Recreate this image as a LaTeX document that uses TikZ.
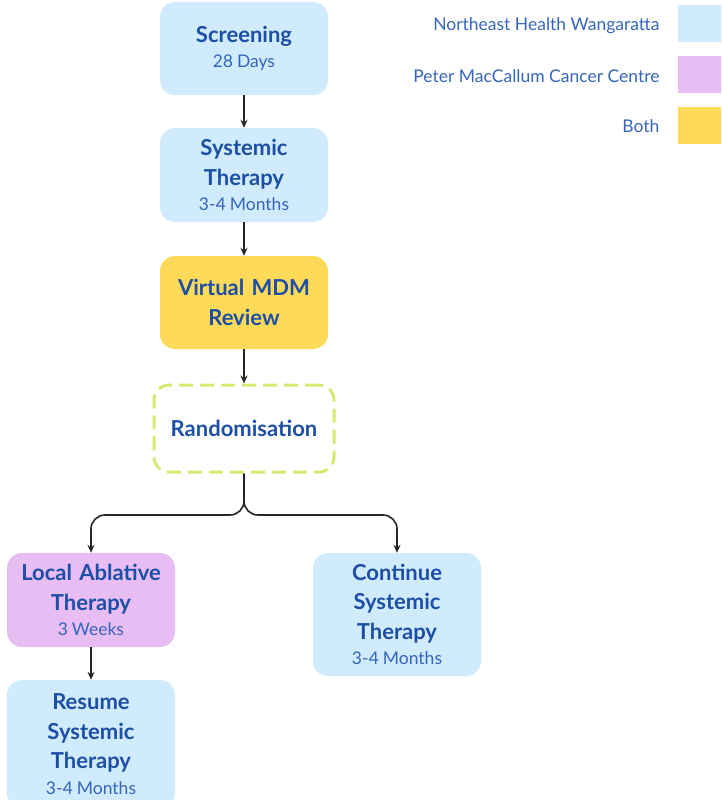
\documentclass[tikz,border=0pt]{standalone}
\usepackage{fontspec}
\setmainfont[Numbers=Proportional]{Lato}
\usetikzlibrary{arrows.meta}
\definecolor{nhw}{HTML}{CFEBFD}
\definecolor{pmc}{HTML}{E8BDF4}
\definecolor{both}{HTML}{FFD958}
\definecolor{rnd}{HTML}{D6EA72}
\definecolor{titc}{HTML}{1D4FA6}
\definecolor{subc}{HTML}{3565BC}
\tikzset{
  box/.style={rectangle, rounded corners=15pt, minimum width=168pt, text width=160pt, align=center, inner sep=0pt, text=titc, font=\fontsize{22}{29.5}\selectfont\bfseries},
  leg/.style={rectangle, minimum width=50pt, minimum height=37pt, inner sep=0pt},
  legtxt/.style={anchor=east, text=subc, font=\fontsize{17.5}{18}\selectfont},
  arr/.style={-{Stealth[length=8pt,width=7pt]}, line width=1.6pt, black!85},
}
\newcommand{\sbt}[1]{{\fontsize{17.5}{29.5}\selectfont\mdseries\spaceskip=0.22em\relax\color{subc}#1}}
\begin{document}
\begin{tikzpicture}[x=1pt,y=-1pt]
\useasboundingbox (0,0) rectangle (721,800);
\clip (0,0) rectangle (721,800);
\node[box, fill=nhw, minimum height=93pt] (scr) at (244,48.5) {Screening\\[-4pt]\sbt{28 Days}};
\node[box, fill=nhw, minimum height=94pt] (sys) at (244,175) {Systemic\\Therapy\\[-4pt]\sbt{3-4 Months}};
\node[box, fill=both, minimum height=93pt] (mdm) at (244,302.5) {Virtual MDM\\Review};
\node[box, draw=rnd, line width=3pt, dash pattern=on 14pt off 7pt, fill=white, minimum width=180pt, minimum height=87pt] (rnd) at (244,428.5) {Randomisation};
\node[box, fill=pmc, minimum height=94pt] (lat) at (91,600) {Local Ablative\\Therapy\\[-4pt]\sbt{3 Weeks}};
\node[box, fill=nhw, minimum height=128pt] (res) at (91,744) {Resume\\Systemic\\Therapy\\[-4pt]\sbt{3-4 Months}};
\node[box, fill=nhw, minimum height=123pt] (con) at (397,614.5) {Continue\\Systemic\\Therapy\\[-4pt]\sbt{3-4 Months}};
% legend
\node[leg, fill=nhw, anchor=west] (l1) at (678,24) {};
\node[leg, fill=pmc, anchor=west] (l2) at (678,74.5) {};
\node[leg, fill=both, anchor=west] (l3) at (678,125) {};
\node[legtxt] (t1) at (663,26) {Northeast Health Wangaratta};
\node[legtxt] (t2) at (663,76) {Peter MacCallum Cancer Centre};
\node[legtxt] (t3) at (663,126.5) {Both};
% arrows
\draw[arr] (scr) -- (sys);
\draw[arr] (sys) -- (mdm);
\draw[arr] (mdm) -- (rnd);
\coordinate (split) at (244,515);
\draw[arr, rounded corners=14pt] (rnd.south) -- (split) -| (lat.north);
\draw[arr, rounded corners=14pt] (rnd.south) -- (split) -| (con.north);
\draw[arr] (lat) -- (res);
\end{tikzpicture}
\end{document}
